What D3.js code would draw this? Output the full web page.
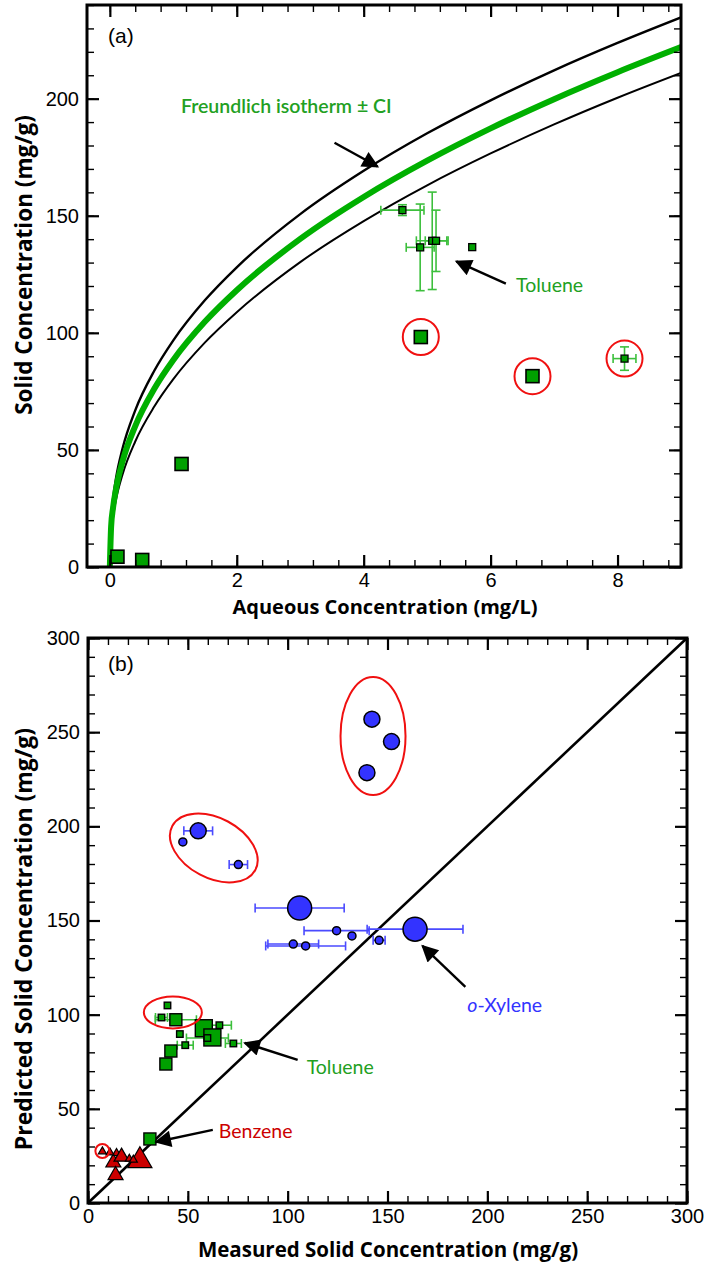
<!DOCTYPE html>
<html><head><meta charset="utf-8">
<script src="https://cdn.jsdelivr.net/npm/d3@7"></script>
<style>body{margin:0;background:#fff}</style>
</head><body>
<svg width="706" height="1262"></svg>
<script>
// ---- panel (a) data: toluene isotherm ----
var aqConc   = [0.12, 0.51, 1.13, 4.90, 6.66, 8.11, 4.61, 4.89, 5.08, 5.14, 5.71];
var solidConc= [4.4, 3.0, 44, 98.2, 81.5, 89, 152.4, 136.5, 139.3, 139.3, 136.6];
var aqErr    = [0, 0, 0, 0, 0, 0.18, 0.34, 0.22, 0.25, 0.17, 0];
var solidErr = [0, 0, 0, 0, 0, 5, 2.3, 18.5, 20.8, 13.1, 0];
var aqBig    = [1, 1, 1, 1, 1, 0, 0, 0, 0, 0, 0];
var aqCircled= [0, 0, 0, 1, 1, 1, 0, 0, 0, 0, 0];

// Freundlich fit and confidence band
var fitC     = [0, 0.02, 0.05, 0.1, 0.2, 0.4, 0.7, 1, 1.5, 2, 3, 4, 5, 6, 7, 8, 9];
var fitQ     = [0, 17.2, 25.2, 33.7, 45.1, 60.2, 76.1, 88.4, 104.8, 118.2, 140.1, 158.0, 173.5, 187.3, 199.8, 211.3, 222.0];
var upperQ   = [0, 20.0, 29.0, 38.3, 50.6, 66.9, 83.8, 96.8, 114.0, 128.0, 150.7, 169.2, 185.2, 199.3, 212.1, 223.8, 234.7];
var lowerQ   = [0, 14.3, 21.4, 29.1, 39.5, 53.6, 68.5, 80.2, 95.9, 108.8, 130.2, 147.7, 163.0, 176.6, 189.0, 200.4, 211.0];

// ---- panel (b) data: predicted vs measured ----
var xylMeas  = [142.2, 152, 139.7, 55.2, 47.5, 75.3, 106, 124.5, 163.8, 132.2, 145.8, 102.8, 109];
var xylPred  = [256.9, 245, 228.5, 197.6, 191.7, 179.7, 156.6, 144.6, 145.4, 141.8, 139.5, 137.5, 136.5];
var xylErr   = [0, 0, 0, 7.2, 0, 4.6, 22.3, 16.3, 24, 0, 3, 12.7, 20];
var xylSize  = [2, 2, 2, 2, 1, 1, 3, 1, 3, 1, 1, 1, 1];

var tolMeas  = [39.8, 36.8, 44, 58, 62.3, 65.8, 59.8, 72.8, 46, 48.7, 41.5, 39, 31];
var tolPred  = [104.9, 98.5, 97.3, 92.8, 87.9, 94.4, 87.6, 84.7, 89.7, 83.8, 80.7, 73.8, 34];
var tolErr   = [0, 3, 10.3, 0, 0, 6, 10.5, 4, 0, 4, 0, 0, 0];
var tolSize  = [1, 1, 2, 3, 3, 1, 1, 1, 1, 1, 2, 2, 2];

var benMeas  = [7.2, 12.7, 14.3, 16.8, 13.8, 20.7, 26, 22.7, 11];
var benPred  = [27.6, 21.9, 26.7, 25, 15.2, 23.7, 23.2, 23.2, 27];
var benSize  = [1, 2, 1, 2, 2, 1, 3, 1, 1];

var aTicksX = [0, 2, 4, 6, 8], aTicksY = [0, 50, 100, 150, 200];
var bTicks = [0, 50, 100, 150, 200, 250, 300];

var GREEN = "#00a000", BLUE = "#3333ff", RED = "#cc0000";
var GREEN_EB = "#3cbf3c", BLUE_EB = "#4a4aff";
var TICKFONT = "'Liberation Sans', Arial, sans-serif";
var LABFONT = "Lato, 'Open Sans', sans-serif";
var TITLEFONT = "'Open Sans', Lato, sans-serif";

var svg = d3.select("svg");

svg.append("defs").append("marker")
  .attr("id", "arrow")
  .attr("viewBox", "0 0 10 10")
  .attr("refX", 9).attr("refY", 5)
  .attr("markerWidth", 9).attr("markerHeight", 7)
  .attr("markerUnits", "strokeWidth")
  .attr("orient", "auto")
  .append("path").attr("d", "M0,0 L10,5 L0,10 Z").attr("fill", "#000");

function frame(g, x, y, xMaj, xMin, yMaj, yMin) {
  var xr = x.range(), yr = y.range();
  function ax(axis, tr, vals, size, pad) {
    var a = g.append("g").attr("transform", tr)
      .call(axis.tickValues(vals).tickSize(size).tickPadding(pad || 0)
        .tickFormat(pad ? d3.format("d") : ""));
    a.select(".domain").remove();
    a.selectAll("line").attr("stroke", "#000").attr("stroke-width", size < -9 ? 2.2 : 1.4);
    a.selectAll("text").attr("font-family", TICKFONT).attr("font-size", 20).attr("fill", "#000");
  }
  ax(d3.axisBottom(x), "translate(0," + yr[0] + ")", xMaj, -12, 6);
  ax(d3.axisBottom(x), "translate(0," + yr[0] + ")", xMin, -7);
  ax(d3.axisTop(x), "translate(0," + yr[1] + ")", xMaj, -12);
  ax(d3.axisTop(x), "translate(0," + yr[1] + ")", xMin, -7);
  ax(d3.axisLeft(y), "translate(" + xr[0] + ",0)", yMaj, -12, 8);
  ax(d3.axisLeft(y), "translate(" + xr[0] + ",0)", yMin, -7);
  ax(d3.axisRight(y), "translate(" + xr[1] + ",0)", yMaj, -12);
  ax(d3.axisRight(y), "translate(" + xr[1] + ",0)", yMin, -7);
  g.append("rect")
    .attr("x", xr[0]).attr("y", yr[1])
    .attr("width", xr[1] - xr[0]).attr("height", yr[0] - yr[1])
    .attr("fill", "none").attr("stroke", "#000").attr("stroke-width", 3);
}

function hErr(g, x, y, cx, cy, e, col) {
  if (!e) return;
  var x0 = x(cx - e), x1 = x(cx + e), py = y(cy);
  g.append("line").attr("x1", x0).attr("x2", x1).attr("y1", py).attr("y2", py).attr("stroke", col).attr("stroke-width", 1.6);
  [x0, x1].forEach(function(px) {
    g.append("line").attr("x1", px).attr("x2", px).attr("y1", py - 4.5).attr("y2", py + 4.5).attr("stroke", col).attr("stroke-width", 1.6);
  });
}
function vErr(g, x, y, cx, cy, e, col) {
  if (!e) return;
  var y0 = y(cy - e), y1 = y(cy + e), px = x(cx);
  g.append("line").attr("x1", px).attr("x2", px).attr("y1", y0).attr("y2", y1).attr("stroke", col).attr("stroke-width", 1.6);
  [y0, y1].forEach(function(py) {
    g.append("line").attr("x1", px - 4.5).attr("x2", px + 4.5).attr("y1", py).attr("y2", py).attr("stroke", col).attr("stroke-width", 1.6);
  });
}

function arrow(g, x, y, from, to) {
  g.append("line")
    .attr("x1", x(from[0])).attr("y1", y(from[1]))
    .attr("x2", x(to[0])).attr("y2", y(to[1]))
    .attr("stroke", "#000").attr("stroke-width", 2.4)
    .attr("marker-end", "url(#arrow)");
}

function label(g, px, py, txt, col) {
  return g.append("text").attr("x", px).attr("y", py)
    .attr("font-family", LABFONT).attr("font-size", 19.5).attr("fill", col).text(txt);
}

function title(g, tr, txt, size) {
  g.append("text").attr("transform", tr).attr("text-anchor", "middle")
    .attr("font-family", TITLEFONT).attr("font-weight", "bold").attr("font-size", size)
    .text(txt);
}

// ================= panel (a) =================
var xA = d3.scaleLinear().domain([-0.36, 9]).range([87, 681]);
var yA = d3.scaleLinear().domain([0, 240]).range([567, 5]);
var gA = svg.append("g");

gA.append("clipPath").attr("id", "clipA").append("rect")
  .attr("x", 87).attr("y", 5).attr("width", 594).attr("height", 562);

var line = d3.line().curve(d3.curveMonotoneX);
var curves = gA.append("g").attr("clip-path", "url(#clipA)");
[[upperQ, "#000", 2.4], [lowerQ, "#000", 2], [fitQ, "#00b000", 6]].forEach(function(c) {
  curves.append("path")
    .attr("d", line(fitC.map(function(v, i) { return [xA(v), yA(c[0][i])]; })))
    .attr("fill", "none").attr("stroke", c[1]).attr("stroke-width", c[2]);
});

aqConc.forEach(function(c, i) {
  hErr(gA, xA, yA, c, solidConc[i], aqErr[i], GREEN_EB);
  vErr(gA, xA, yA, c, solidConc[i], solidErr[i], GREEN_EB);
});
aqConc.forEach(function(c, i) {
  var s = aqBig[i] ? 13 : 7;
  gA.append("rect")
    .attr("x", xA(c) - s / 2).attr("y", yA(solidConc[i]) - s / 2)
    .attr("width", s).attr("height", s)
    .attr("fill", GREEN).attr("stroke", "#000").attr("stroke-width", aqBig[i] ? 1.6 : 1.3);
  if (aqCircled[i]) {
    gA.append("circle").attr("cx", xA(c)).attr("cy", yA(solidConc[i])).attr("r", 18)
      .attr("fill", "none").attr("stroke", "#f01010").attr("stroke-width", 2);
  }
});

frame(gA, xA, yA, aTicksX, d3.range(0, 9.01, 0.4), aTicksY, d3.range(0, 240.1, 10));

arrow(gA, xA, yA, [3.54, 181.2], [4.22, 171]);
arrow(gA, xA, yA, [6.24, 121], [5.46, 130.5]);
label(gA, xA(1.12), yA(194), "Freundlich isotherm \u00b1 CI", "#22a022").attr("font-weight", 600);
label(gA, xA(6.4), yA(117.5), "Toluene", "#22a022");

gA.append("text").attr("x", 108).attr("y", 43)
  .attr("font-family", TICKFONT).attr("font-size", 21).text("(a)");
title(gA, "translate(385,614)", "Aqueous Concentration (mg/L)", 20);
title(gA, "translate(32,265) rotate(-90)", "Solid Concentration (mg/g)", 22.5);

// ================= panel (b) =================
var xB = d3.scaleLinear().domain([0, 300]).range([88, 687]);
var yB = d3.scaleLinear().domain([0, 300]).range([1203, 638]);
var gB = svg.append("g");

gB.append("line")
  .attr("x1", xB(0)).attr("y1", yB(0)).attr("x2", xB(300)).attr("y2", yB(300))
  .attr("stroke", "#000").attr("stroke-width", 2.6);

// error bars first
xylMeas.forEach(function(m, i) { hErr(gB, xB, yB, m, xylPred[i], xylErr[i], BLUE_EB); });
tolMeas.forEach(function(m, i) { hErr(gB, xB, yB, m, tolPred[i], tolErr[i], GREEN_EB); });

var circR = [0, 4, 8, 12];
xylMeas.forEach(function(m, i) {
  gB.append("circle").attr("cx", xB(m)).attr("cy", yB(xylPred[i])).attr("r", circR[xylSize[i]])
    .attr("fill", BLUE).attr("stroke", "#000").attr("stroke-width", 1.5);
});
var sqS = [0, 6.5, 12, 17];
tolMeas.forEach(function(m, i) {
  var s = sqS[tolSize[i]];
  gB.append("rect").attr("x", xB(m) - s / 2).attr("y", yB(tolPred[i]) - s / 2)
    .attr("width", s).attr("height", s)
    .attr("fill", GREEN).attr("stroke", "#000").attr("stroke-width", 1.4);
});
var triS = [0, 8, 15, 24];
benMeas.forEach(function(m, i) {
  var s = triS[benSize[i]], h = s * 0.87, cx = xB(m), cy = yB(benPred[i]);
  gB.append("path")
    .attr("d", "M" + cx + "," + (cy - h * 0.6) + " L" + (cx + s / 2) + "," + (cy + h * 0.4) + " L" + (cx - s / 2) + "," + (cy + h * 0.4) + " Z")
    .attr("fill", RED).attr("stroke", "#000").attr("stroke-width", 1.2);
});

// red highlight ellipses
function ring(cx, cy, rx, ry, rot) {
  gB.append("ellipse")
    .attr("transform", "translate(" + xB(cx) + "," + yB(cy) + ") rotate(" + rot + ")")
    .attr("rx", rx).attr("ry", ry)
    .attr("fill", "none").attr("stroke", "#f01010").attr("stroke-width", 2);
}
ring(142.75, 248, 32.5, 59, 0);
ring(63, 188.5, 47, 30, 28);
ring(42.5, 101.2, 29, 16, 0);
ring(benMeas[0], benPred[0], 7, 7, 0);

frame(gB, xB, yB, bTicks, d3.range(0, 300.1, 10), bTicks, d3.range(0, 300.1, 10));

arrow(gB, xB, yB, [189, 114.7], [167.5, 136.5]);
arrow(gB, xB, yB, [105, 76], [78.5, 85]);
arrow(gB, xB, yB, [62.5, 38.8], [34, 32.4]);

var xl = label(gB, xB(190), yB(101.5), "", BLUE);
xl.append("tspan").attr("font-style", "italic").text("o");
xl.append("tspan").text("-Xylene");
label(gB, xB(109.5), yB(68.5), "Toluene", "#22a022");
label(gB, xB(65.5), yB(34.5), "Benzene", RED);

gB.append("text").attr("x", 108).attr("y", 671)
  .attr("font-family", TICKFONT).attr("font-size", 21).text("(b)");
title(gB, "translate(388,1257)", "Measured Solid Concentration (mg/g)", 20.5);
title(gB, "translate(32,939) rotate(-90)", "Predicted Solid Concentration (mg/g)", 23);
</script>
</body></html>
